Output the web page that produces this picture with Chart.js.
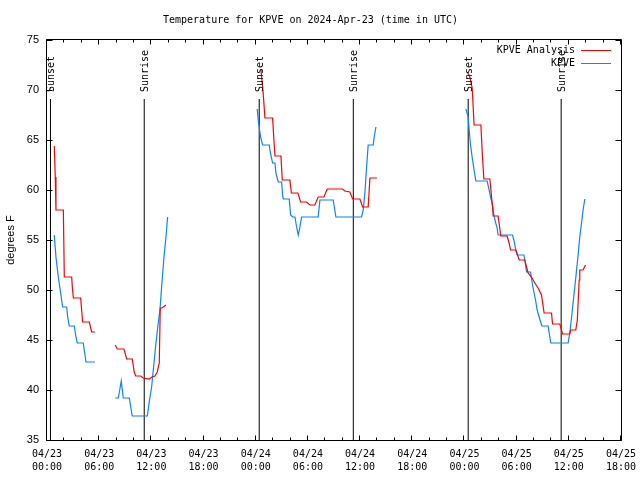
<!DOCTYPE html>
<html>
<head>
<meta charset="utf-8">
<script src="https://cdn.jsdelivr.net/npm/chart.js@4/dist/chart.umd.min.js"></script>
<style>
  html, body { margin: 0; padding: 0; background: #ffffff; }
  #c { display: block; }
</style>
</head>
<body>
<canvas id="c" width="640" height="480"></canvas>
<script>
// ---------- DATA (hours since 04/23 00:00 UTC, temperatures in degrees F) ----------
const titleText = 'Temperature for KPVE on 2024-Apr-23 (time in UTC)';
const yTitle = 'degrees F';
const seriesNames = ['KPVE Analysis', 'KPVE'];

const xTickHours = [0, 6, 12, 18, 24, 30, 36, 42, 48, 54, 60, 66];
const xTickLabels = [
  ['04/23', '00:00'], ['04/23', '06:00'], ['04/23', '12:00'], ['04/23', '18:00'],
  ['04/24', '00:00'], ['04/24', '06:00'], ['04/24', '12:00'], ['04/24', '18:00'],
  ['04/25', '00:00'], ['04/25', '06:00'], ['04/25', '12:00'], ['04/25', '18:00']
];
const yTickValues = [35, 40, 45, 50, 55, 60, 65, 70, 75];

// KPVE Analysis (red); null temperature = gap
const analysisHours = [
  0.84, 0.95, 1.03, 1.88, 1.99, 2.84, 2.91, 3.03, 3.87, 3.98, 4.10, 4.87, 5.13, 5.52,
  6.5,
  7.85, 8.08, 8.85, 9.16, 9.80, 10.03, 10.20, 10.77, 11.07, 11.76, 12.07, 12.41, 12.68, 12.91, 13.02, 13.22, 13.68,
  20,
  24.60, 24.83, 25.06, 25.94, 26.09, 26.21, 26.90, 27.05, 27.93, 28.10, 28.85, 29.16, 29.85, 30.23, 30.80, 31.18,
  31.84, 32.22, 33.99, 34.25, 34.83, 35.14, 35.98, 36.29, 36.93, 37.13, 37.93,
  42,
  48.33, 48.62, 48.89, 49.11, 49.89, 50.06, 50.23, 50.92, 51.23, 51.30, 51.87, 52.18, 52.91, 53.16, 53.30, 53.91,
  54.29, 54.94, 55.32, 55.71, 56.09, 56.47, 56.86, 57.16, 58.01, 58.13, 58.97, 59.28, 60.11, 60.23, 60.80, 60.98,
  61.19, 61.26, 61.64, 61.92
];
const analysisTemps = [
  64.4, 61.3, 58.0, 58.0, 51.3, 51.3, 50.3, 49.2, 49.2, 48.0, 46.8, 46.8, 45.8, 45.8,
  null,
  44.5, 44.1, 44.1, 43.1, 43.1, 41.8, 41.4, 41.4, 41.2, 41.1, 41.3, 41.4, 41.8, 42.7, 48.2, 48.2, 48.5,
  null,
  72.0, 70.0, 67.2, 67.2, 65.0, 63.4, 63.4, 61.0, 61.0, 59.7, 59.7, 58.8, 58.8, 58.5, 58.5, 59.3,
  59.3, 60.1, 60.1, 59.9, 59.8, 59.1, 59.1, 58.3, 58.3, 61.2, 61.2,
  null,
  71.8, 71.3, 70.2, 66.5, 66.5, 63.5, 61.1, 61.1, 58.3, 57.4, 57.4, 55.4, 55.4, 54.6, 54.0, 54.0,
  53.0, 53.0, 51.7, 51.3, 50.7, 50.2, 49.5, 47.7, 47.7, 46.6, 46.6, 45.6, 45.6, 46.0, 46.0, 47.0,
  51.0, 52.0, 52.0, 52.5
];

// KPVE observations (blue)
const obsHours = [
  0.84, 1.03, 1.30, 1.57, 1.80, 2.26, 2.38, 2.56, 3.14, 3.33, 3.48, 4.17, 4.48, 5.52,
  6.5,
  7.85, 8.20, 8.54, 8.66, 8.77, 9.46, 9.80, 11.53, 11.76, 12.03, 12.22, 12.53, 12.76, 12.99, 13.18, 13.45, 13.68, 13.87,
  20,
  24.17, 24.31, 24.56, 24.79, 25.55, 25.71, 25.94, 26.21, 26.32, 26.59, 26.98, 27.09, 27.16, 27.85, 28.01, 28.24,
  28.51, 28.70, 28.89, 29.08, 29.28, 31.18, 31.38, 32.91, 33.22, 36.17, 36.36, 36.55, 36.75, 36.93, 37.51, 37.62, 37.82,
  42,
  48.16, 48.43, 48.54, 48.70, 48.85, 49.05, 49.20, 49.31, 50.61, 50.84, 51.03, 51.23, 51.38, 51.57, 51.76, 51.87,
  53.53, 53.68, 53.91, 54.06, 54.83, 54.94, 55.14, 55.60, 55.83, 56.01, 56.21, 56.36, 56.59, 56.76, 56.90, 57.62,
  57.74, 57.93, 59.92, 60.11, 60.31, 60.49, 60.69, 60.89, 61.07, 61.26, 61.46, 61.64, 61.84
];
const obsTemps = [
  55.5, 53.3, 51.3, 49.7, 48.3, 48.3, 47.3, 46.4, 46.4, 45.3, 44.7, 44.7, 42.8, 42.8,
  null,
  39.2, 39.2, 40.9, 40.0, 39.2, 39.2, 37.4, 37.4, 38.8, 40.3, 42.0, 44.7, 46.5, 48.0, 50.3, 53.3, 55.3, 57.3,
  null,
  68.1, 66.8, 65.3, 64.5, 64.5, 63.6, 62.7, 62.7, 61.7, 60.8, 60.8, 59.5, 59.1, 59.1, 57.5, 57.3,
  57.3, 56.3, 55.5, 56.3, 57.3, 57.3, 59.0, 59.0, 57.3, 57.3, 58.0, 59.7, 62.3, 64.5, 64.5, 65.3, 66.3,
  null,
  68.1, 67.3, 66.0, 64.5, 63.5, 62.3, 61.5, 60.9, 60.9, 60.0, 59.2, 58.5, 57.5, 56.8, 56.2, 55.5,
  55.5, 55.0, 54.0, 53.5, 53.5, 53.0, 51.8, 51.8, 50.5, 49.7, 48.8, 48.0, 47.3, 46.8, 46.4, 46.4,
  45.7, 44.7, 44.7, 45.7, 47.2, 48.7, 50.3, 52.0, 53.5, 55.3, 56.7, 58.0, 59.1
];

// Sunset / sunrise markers
const eventHours = [0.40, 11.18, 24.40, 35.22, 48.43, 59.12];
const eventNames = ['Sunset', 'Sunrise', 'Sunset', 'Sunrise', 'Sunset', 'Sunrise'];
const eventLineTop = 69.1;

// ---------- BUILD ----------
const X_MIN = 0, X_MAX = 66, Y_MIN = 35, Y_MAX = 75;
const MONO = '"DejaVu Sans Mono", "Liberation Mono", monospace';
const SANS = '"Liberation Sans", Arial, sans-serif';
const RED = '#ff0000';
const BLUE = '#0a84ff';

function zip(hs, ts) { return hs.map((h, i) => ({ x: h, y: ts[i] })); }

const eventData = [];
eventHours.forEach(h => {
  eventData.push({ x: h, y: Y_MIN }, { x: h, y: eventLineTop }, { x: h, y: null });
});

const frameTicks = {
  id: 'frameTicks',
  afterDraw(chart) {
    const { ctx, chartArea: a, scales: { x, y } } = chart;
    const L = Math.round(a.left) - 0.5, R = Math.round(a.right) + 0.5;
    const T = Math.round(a.top) - 0.5, B = Math.round(a.bottom) + 0.5;
    ctx.save();
    ctx.strokeStyle = '#000';
    ctx.lineWidth = 1;
    ctx.beginPath();
    ctx.rect(L, T, R - L, B - T);
    for (let h = X_MIN; h <= X_MAX; h += 2) {
      const px = Math.round(x.getPixelForValue(h)) - 0.5;
      const len = (h % 6 === 0) ? 5 : 3;
      ctx.moveTo(px, B); ctx.lineTo(px, B - len);
      ctx.moveTo(px, T); ctx.lineTo(px, T + len);
    }
    yTickValues.forEach(v => {
      const py = Math.round(y.getPixelForValue(v)) + 0.5;
      ctx.moveTo(L, py); ctx.lineTo(L + 6, py);
      ctx.moveTo(R, py); ctx.lineTo(R - 6, py);
    });
    ctx.stroke();

    // Sunset / Sunrise labels
    ctx.fillStyle = '#000';
    ctx.font = '10px ' + MONO;
    ctx.textAlign = 'left';
    ctx.textBaseline = 'middle';
    const yBase = y.getPixelForValue(eventLineTop) - 7;
    eventHours.forEach((h, i) => {
      const px = x.getPixelForValue(h);
      ctx.save();
      ctx.translate(px + 1, yBase);
      ctx.rotate(-Math.PI / 2);
      ctx.fillText(eventNames[i], 0, 0);
      ctx.restore();
    });

    // Legend (top right, inside the plot)
    const ds = chart.data.datasets;
    const lineR = a.right - 10, lineL = lineR - 30;
    [0, 1].forEach((k, i) => {
      const ly = a.top + 10 + i * 12.5;
      ctx.textAlign = 'right';
      ctx.fillStyle = '#000';
      ctx.fillText(ds[k].label, lineL - 6, ly + 0.5);
      ctx.strokeStyle = ds[k].borderColor;
      ctx.beginPath();
      ctx.moveTo(lineL, Math.round(ly) + 0.5);
      ctx.lineTo(lineR, Math.round(ly) + 0.5);
      ctx.stroke();
    });
    ctx.restore();
  }
};

new Chart(document.getElementById('c'), {
  type: 'line',
  data: {
    datasets: [
      { label: seriesNames[0], data: zip(analysisHours, analysisTemps), borderColor: RED, backgroundColor: RED,
        borderWidth: 1.2, pointRadius: 0, tension: 0, spanGaps: false, fill: false },
      { label: seriesNames[1], data: zip(obsHours, obsTemps), borderColor: BLUE, backgroundColor: BLUE,
        borderWidth: 1.2, pointRadius: 0, tension: 0, spanGaps: false, fill: false },
      { label: 'events', data: eventData, borderColor: '#000', backgroundColor: '#000',
        borderWidth: 1, pointRadius: 0, tension: 0, spanGaps: false, fill: false }
    ]
  },
  options: {
    responsive: false,
    animation: false,
    events: [],
    layout: { padding: { left: 0, right: 19, top: 0, bottom: 0 } },
    plugins: {
      legend: { display: false },
      tooltip: { enabled: false },
      title: {
        display: true,
        text: titleText,
        color: '#000',
        font: { family: MONO, size: 10, weight: 'normal', lineHeight: 1.2 },
        padding: { top: 14, bottom: 14 }
      }
    },
    scales: {
      x: {
        type: 'linear',
        min: X_MIN, max: X_MAX,
        grid: { display: false, drawTicks: false },
        border: { display: false },
        afterBuildTicks: s => { s.ticks = xTickHours.map(v => ({ value: v })); },
        afterFit: s => { s.height = 40; s.paddingLeft = 0; s.paddingRight = 0; },
        ticks: {
          autoSkip: false, maxRotation: 0, minRotation: 0, padding: 8,
          color: '#000',
          font: { family: MONO, size: 10, lineHeight: 1.3 },
          callback: (v, i) => xTickLabels[i]
        }
      },
      y: {
        type: 'linear',
        min: Y_MIN, max: Y_MAX,
        grid: { display: false, drawTicks: false },
        border: { display: false },
        afterBuildTicks: s => { s.ticks = yTickValues.map(v => ({ value: v })); },
        afterFit: s => { s.width = 47; s.paddingTop = 0; s.paddingBottom = 0; },
        ticks: {
          padding: 8, color: '#000',
          font: { family: SANS, size: 11 },
          callback: v => String(v)
        },
        title: {
          display: true, text: yTitle, color: '#000',
          font: { family: SANS, size: 11 },
          padding: { top: 4, bottom: 0 }
        }
      }
    }
  },
  plugins: [frameTicks]
});
</script>
</body>
</html>
